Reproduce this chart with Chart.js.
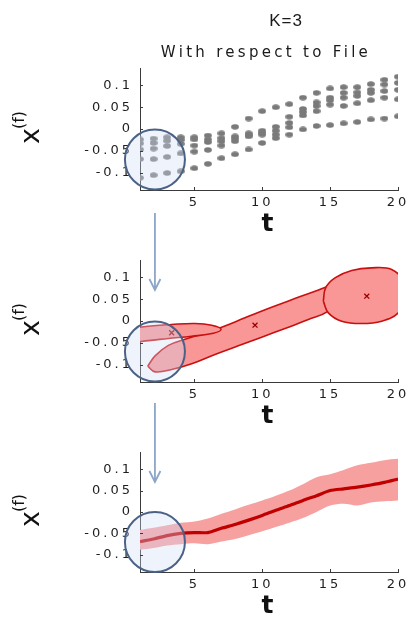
<!DOCTYPE html>
<html>
<head>
<meta charset="utf-8">
<script src="https://cdn.jsdelivr.net/npm/chart.js@4.4.0/dist/chart.umd.min.js"></script>
<style>
html, body { margin: 0; background: #fff; overflow: hidden; }
#wrap { position: relative; width: 412px; height: 621px; overflow: hidden; }
#wrap canvas { position: absolute; left: 0; }
</style>
</head>
<body>
<div id="wrap">
  <canvas id="c1" width="412" height="270" style="top:0px"></canvas>
  <canvas id="c2" width="412" height="222" style="top:240px"></canvas>
  <canvas id="c3" width="412" height="232" style="top:420px"></canvas>
  <canvas id="arrows" width="412" height="621" style="top:0px"></canvas>
</div>
<script>
// axis ticks
const xTicks = [5, 10, 15, 20];
const yTicks = [-0.1, -0.05, 0, 0.05, 0.1];
const yTickLabels = ['-0.1', '-0.05', '0', '0.05', '0.1'];
const yTitleBase = 'x';
const yTitleSup = '(f)';

// panel 1: raw tracks per time step
const tSteps = [1, 2, 3, 4, 5, 6, 7, 8, 9, 10, 11, 12, 13, 14, 15, 16, 17, 18, 19, 20];
const fileTrack1 = [-0.024, -0.022, -0.019, -0.019, -0.019, -0.015, -0.010, 0.005, 0.024, 0.041, 0.050, 0.057, 0.072, 0.083, 0.093, 0.096, 0.096, 0.103, 0.113, 0.120];
const fileTrack2 = [-0.033, -0.032, -0.027, -0.025, -0.024, -0.024, -0.021, -0.017, -0.010, -0.004, 0.005, 0.028, 0.046, 0.061, 0.072, 0.083, 0.084, 0.090, 0.102, 0.106];
const fileTrack3 = [-0.047, -0.045, -0.039, -0.034, -0.038, -0.030, -0.028, -0.022, -0.014, -0.009, -0.004, 0.014, 0.039, 0.053, 0.066, 0.072, 0.076, 0.083, 0.087, 0.090];
const fileTrack4 = [-0.069, -0.069, -0.064, -0.056, -0.052, -0.048, -0.038, -0.028, -0.017, -0.013, -0.013, 0.004, 0.031, 0.041, 0.056, 0.053, 0.059, 0.066, 0.072, 0.068];
const fileTrack5 = [-0.112, -0.106, -0.101, -0.097, -0.090, -0.080, -0.067, -0.058, -0.047, -0.032, -0.021, -0.013, -0.001, 0.007, 0.009, 0.013, 0.016, 0.022, 0.024, 0.029];

// panel 2: contour outlines of the K=3 components
const blob1T = [-0.84, 0.14, 1.61, 3.33, 5.05, 6.28, 6.97, 6.40, 4.81, 3.09, 1.61, 0.14, -0.84];
const blob1V = [-0.035, -0.0195, -0.012, -0.008, -0.0057, -0.0096, -0.0187, -0.028, -0.035, -0.040, -0.045, -0.048, -0.035];
const blob2T = [1.57, 2.11, 3.09, 4.31, 5.54, 7.01, 8.73, 10.45, 12.17, 13.89, 15.36, 16.22, 16.10, 14.87, 13.40, 11.68, 9.96, 8.24, 6.52, 4.81, 3.33, 2.11, 1.57];
const blob2V = [-0.1037, -0.0800, -0.0560, -0.0420, -0.0300, -0.0142, 0.0073, 0.0287, 0.0486, 0.0685, 0.0838, 0.0822, 0.0608, 0.0226, 0.0034, -0.0172, -0.0371, -0.057, -0.0769, -0.0983, -0.1113, -0.1167, -0.1037];
const blob3T = [14.50, 14.67, 15.36, 16.59, 18.06, 19.53, 20.39, 20.51, 20.02, 18.80, 17.32, 15.85, 14.87, 14.50];
const blob3V = [0.0455, 0.0761, 0.0991, 0.1159, 0.1220, 0.1182, 0.0914, 0.0532, 0.0187, -0.0004, -0.0057, -0.0004, 0.0187, 0.0455];
const centerT = [3.33, 9.47, 17.7];
const centerV = [-0.027, -0.0096, 0.057];

// panel 3: mean with band
const meanV  = [-0.069, -0.063, -0.055, -0.050, -0.048, -0.048, -0.038, -0.029, -0.019, -0.008, 0.004, 0.015, 0.027, 0.038, 0.050, 0.054, 0.058, 0.063, 0.069, 0.077];
const upperV = [-0.042, -0.037, -0.031, -0.025, -0.022, -0.015, -0.004, 0.006, 0.017, 0.027, 0.038, 0.050, 0.065, 0.081, 0.088, 0.098, 0.109, 0.115, 0.121, 0.124];
const lowerV = [-0.088, -0.084, -0.078, -0.075, -0.073, -0.075, -0.069, -0.063, -0.054, -0.045, -0.035, -0.025, -0.014, 0.000, 0.015, 0.019, 0.015, 0.022, 0.025, 0.027];

// highlighted region (circle) and arrow position, in data units
const lensT = 2.1;
const lensV = -0.07;

const TICK_FONT = { family: 'DejaVu Sans', size: 13 };
const PINK = 'rgb(249,150,150)';
const DARK_RED = 'rgb(200,16,16)';

const pts = (xs, ys) => xs.map((x, i) => ({ x: x, y: ys[i] }));

// gray blob used as marker in panel 1
const dot = document.createElement('canvas');
dot.width = 8; dot.height = 6;
const dg = dot.getContext('2d');
dg.fillStyle = '#7a7a7a';
dg.beginPath();
dg.ellipse(4, 3, 3.9, 2.7, 0, 0, Math.PI * 2);
dg.fill();

function makeScales() {
    return {
        x: {
            type: 'linear', min: 1, max: 20,
            afterBuildTicks: s => { s.ticks = xTicks.map(v => ({ value: v })); },
            afterFit: s => { s.height = 80; },
            grid: { display: false, drawTicks: false },
            border: { display: true, color: '#3a3a3a', width: 1 },
            ticks: { font: TICK_FONT, color: '#1e1e1e', padding: 5, maxRotation: 0, autoSkip: false },
            title: { display: true, text: 't', color: '#111',
                font: { family: 'DejaVu Sans', size: 25, weight: 'bold', lineHeight: 1 },
                padding: { top: 0, bottom: 33 } }
        },
        y: {
            type: 'linear', min: -0.14, max: 0.14,
            afterBuildTicks: s => { s.ticks = yTicks.map(v => ({ value: v })); },
            afterFit: s => { s.width = 140; },
            grid: { display: false, drawTicks: false },
            border: { display: true, color: '#3a3a3a', width: 1 },
            ticks: { font: TICK_FONT, color: '#1e1e1e', padding: 7,
                callback: v => yTickLabels[yTicks.indexOf(v)] },
            title: { display: false }
        }
    };
}

const spacing = {
    id: 'spacing',
    beforeDraw(chart) { chart.ctx.letterSpacing = '3px'; }
};

// inward tick marks + rotated y label with superscript
const axisExtras = {
    id: 'axisExtras',
    afterDraw(chart) {
        const { ctx, chartArea: a, scales } = chart;
        ctx.save();
        ctx.strokeStyle = '#3a3a3a';
        ctx.lineWidth = 1;
        ctx.beginPath();
        xTicks.forEach(v => {
            const px = Math.round(scales.x.getPixelForValue(v)) + 0.5;
            ctx.moveTo(px, a.bottom); ctx.lineTo(px, a.bottom - 3);
        });
        yTicks.forEach(v => {
            const py = Math.round(scales.y.getPixelForValue(v)) + 0.5;
            ctx.moveTo(a.left, py); ctx.lineTo(a.left + 3, py);
        });
        ctx.stroke();
        ctx.restore();

        ctx.save();
        ctx.letterSpacing = '0px';
        ctx.translate(32, (a.top + a.bottom) / 2 + 7);
        ctx.rotate(-Math.PI / 2);
        ctx.fillStyle = '#111';
        ctx.textAlign = 'center';
        ctx.textBaseline = 'alphabetic';
        ctx.font = '27px "DejaVu Sans"';
        ctx.fillText(yTitleBase, 0, 7.4);
        ctx.textBaseline = 'middle';
        ctx.font = '16px "DejaVu Sans"';
        ctx.fillText(yTitleSup, 16, -12);
        ctx.restore();
    }
};

const lens = {
    id: 'lens',
    afterDatasetsDraw(chart) {
        const { ctx, scales } = chart;
        const cx = scales.x.getPixelForValue(lensT);
        const cy = scales.y.getPixelForValue(lensV);
        ctx.save();
        ctx.beginPath();
        ctx.arc(cx, cy, 30, 0, Math.PI * 2);
        ctx.fillStyle = 'rgba(210,222,245,0.35)';
        ctx.fill();
        ctx.lineWidth = 2;
        ctx.strokeStyle = '#4b6287';
        ctx.stroke();
        ctx.restore();
    }
};

const headings = {
    id: 'headings',
    afterDraw(chart) {
        const ctx = chart.ctx;
        ctx.save();
        ctx.fillStyle = '#1a1a1a';
        ctx.textAlign = 'center';
        ctx.textBaseline = 'middle';
        ctx.letterSpacing = '1px';
        ctx.font = '17px "Liberation Sans"';
        ctx.fillText('K=3', 286, 21);
        ctx.letterSpacing = '3.3px';
        ctx.font = '15px "DejaVu Sans"';
        ctx.fillText('With respect to File', 266, 53);
        ctx.restore();
    }
};

const common = {
    responsive: false,
    animation: false,
    devicePixelRatio: 1,
    plugins: { legend: { display: false }, tooltip: { enabled: false } }
};

// panel 1
const fileTracks = [fileTrack1, fileTrack2, fileTrack3, fileTrack4, fileTrack5];
const chart1 = new Chart(document.getElementById('c1'), {
    type: 'scatter',
    data: {
        datasets: fileTracks.map(tr => ({
            data: pts(tSteps, tr),
            pointStyle: dot,
            pointRadius: 4
        }))
    },
    options: Object.assign({}, common, {
        layout: { padding: { top: 68, right: 14, left: 0, bottom: 0 } },
        scales: makeScales()
    }),
    plugins: [spacing, axisExtras, lens, headings]
});

// panel 2
const blobStyle = {
    type: 'line', showLine: true, fill: 'shape', tension: 0.4, capBezierPoints: false,
    backgroundColor: PINK, borderColor: DARK_RED, borderWidth: 1.6, pointRadius: 0
};
const chart2 = new Chart(document.getElementById('c2'), {
    type: 'scatter',
    data: {
        datasets: [
            { data: pts(centerT, centerV), type: 'scatter', pointStyle: 'crossRot',
              pointRadius: 3.5, borderColor: '#9a0000', borderWidth: 1.3, order: 0 },
            Object.assign({}, blobStyle, { data: pts(blob3T, blob3V), order: 1 }),
            Object.assign({}, blobStyle, { data: pts(blob1T, blob1V), order: 2 }),
            Object.assign({}, blobStyle, { data: pts(blob2T, blob2V), order: 3 })
        ]
    },
    options: Object.assign({}, common, {
        layout: { padding: { top: 20, right: 14, left: 0, bottom: 0 } },
        scales: makeScales()
    }),
    plugins: [spacing, axisExtras, lens]
});

// panel 3
const chart3 = new Chart(document.getElementById('c3'), {
    type: 'line',
    data: {
        datasets: [
            { data: pts(tSteps, meanV), borderColor: 'rgb(192,0,0)', borderWidth: 3.2,
              pointRadius: 0, tension: 0.25, order: 0 },
            { data: pts(tSteps, upperV), borderWidth: 0, pointRadius: 0, tension: 0.3,
              fill: '+1', backgroundColor: 'rgb(247,160,160)', order: 1 },
            { data: pts(tSteps, lowerV), borderWidth: 0, pointRadius: 0, tension: 0.3, order: 2 }
        ]
    },
    options: Object.assign({}, common, {
        layout: { padding: { top: 32, right: 14, left: 0, bottom: 0 } },
        scales: makeScales()
    }),
    plugins: [spacing, axisExtras, lens]
});

// arrows linking the panels
const ac = document.getElementById('arrows').getContext('2d');
ac.strokeStyle = 'rgb(140,166,200)';
ac.lineWidth = 1.8;
function arrow(x, y0, y1) {
    ac.beginPath();
    ac.moveTo(x, y0); ac.lineTo(x, y1);
    ac.moveTo(x - 5.5, y1 - 11); ac.lineTo(x, y1); ac.lineTo(x + 5.5, y1 - 11);
    ac.stroke();
}
const ax = chart1.scales.x.getPixelForValue(lensT);
arrow(ax, chart1.chartArea.bottom + 23, 240 + chart2.chartArea.top + 30);
arrow(ax, 240 + chart2.chartArea.bottom + 21, 420 + chart3.chartArea.top + 30);
</script>
</body>
</html>
